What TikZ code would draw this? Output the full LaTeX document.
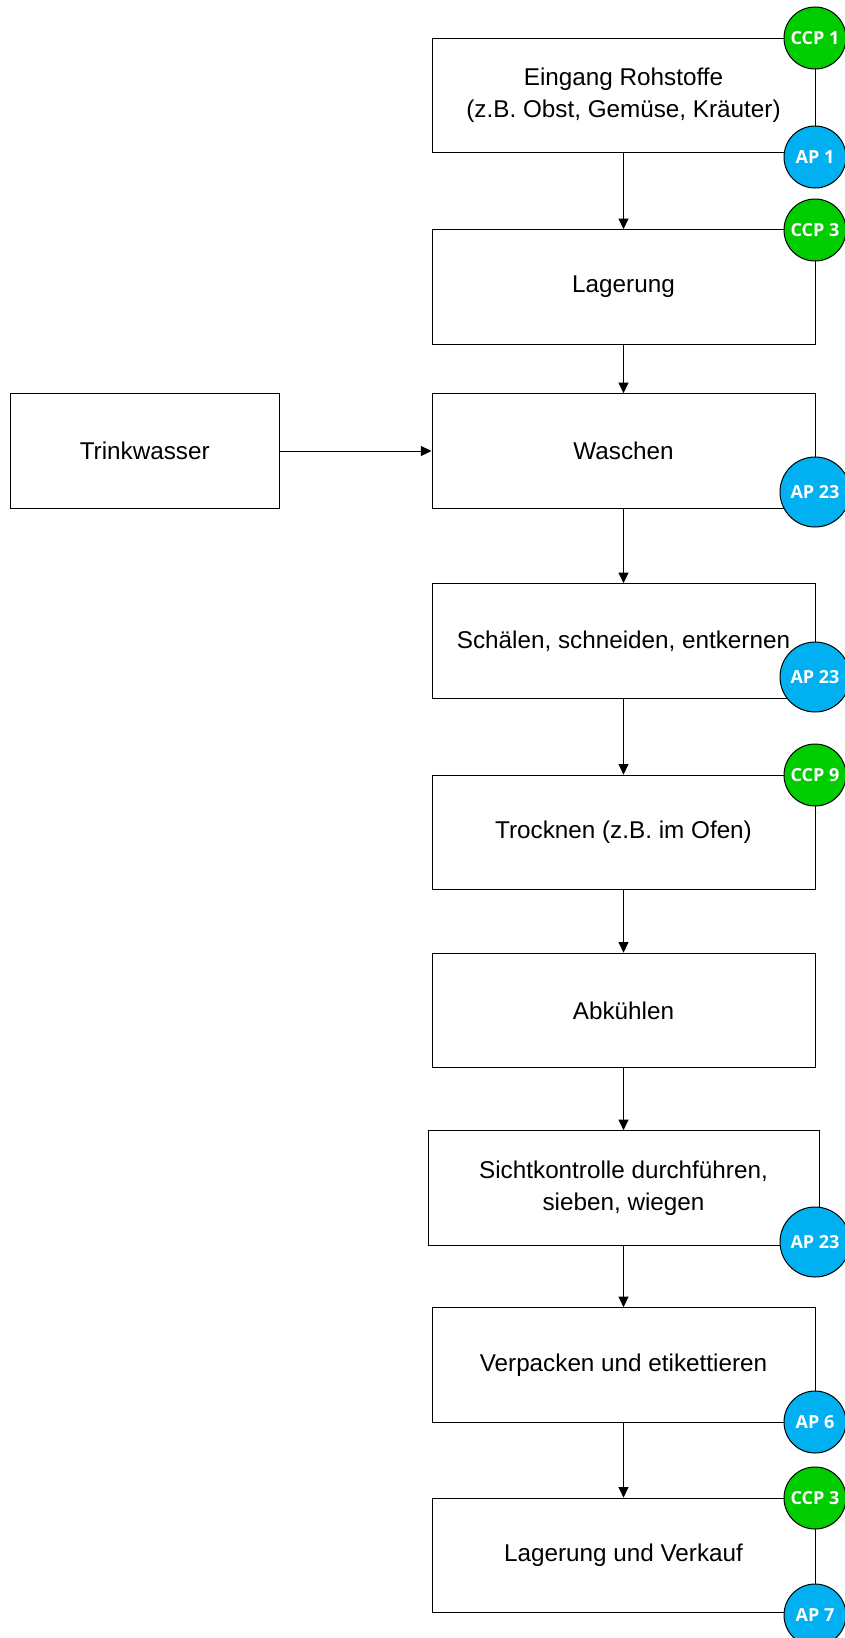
\documentclass[tikz,border=0pt]{standalone}
\usepackage{fontspec}
\setmainfont{Liberation Sans}
\newfontfamily\badgefont{Open Sans}
\usetikzlibrary{arrows.meta}
\definecolor{ccpgreen}{RGB}{0,204,0}
\definecolor{apblue}{RGB}{0,176,240}
\tikzset{
  stepbox/.style={draw=black, line width=0.75pt, fill=white, minimum width=287.25pt,
    minimum height=86pt, align=center, inner sep=0pt,
    font=\fontsize{18.2pt}{24pt}\selectfont},
  flow/.style={draw=black, line width=0.75pt, -{Triangle[length=8pt,width=7.5pt]}},
  badge/.style={circle, draw=black, line width=0.75pt, inner sep=0pt, text=white,
    font=\badgefont\bfseries\fontsize{13.5pt}{15pt}\selectfont, minimum size=46.5pt},
  ccp/.style={badge, fill=ccpgreen},
  ap/.style={badge, fill=apblue},
  apwide/.style={ap, minimum size=52.5pt}
}
\begin{document}
\begin{tikzpicture}[x=0.75pt,y=-0.75pt]
\useasboundingbox (0,0) rectangle (845,1638);

% process steps
\node[stepbox] (eingang) at (623.5,95.5) {Eingang Rohstoffe\\(z.B. Obst, Gemüse, Kräuter)};
\node[stepbox] (lager) at (623.5,287) {Lagerung};
\node[stepbox] (waschen) at (623.5,451) {Waschen};
\node[stepbox, minimum width=201.4pt] (wasser) at (144.75,451) {Trinkwasser};
\node[stepbox] (schaelen) at (623.5,641) {Schälen, schneiden, entkernen};
\node[stepbox] (trocknen) at (623.5,832.5) {Trocknen (z.B. im Ofen)};
\node[stepbox] (abkuehlen) at (623.5,1010.5) {Abkühlen};
\node[stepbox, minimum width=293.25pt] (sicht) at (623.5,1188) {Sichtkontrolle durchführen,\\sieben, wiegen};
\node[stepbox] (verpacken) at (623.5,1365) {Verpacken und etikettieren};
\node[stepbox] (verkauf) at (623.5,1555.5) {Lagerung und Verkauf};

% flow
\draw[flow] (eingang) -- (lager);
\draw[flow] (lager) -- (waschen);
\draw[flow] (wasser) -- (waschen);
\draw[flow] (waschen) -- (schaelen);
\draw[flow] (schaelen) -- (trocknen);
\draw[flow] (trocknen) -- (abkuehlen);
\draw[flow] (abkuehlen) -- (sicht);
\draw[flow] (sicht) -- (verpacken);
\draw[flow] (verpacken) -- (verkauf);

% control points
\node[ccp] (c1) at (815,38) {CCP 1};
\node[ap] (a1) at (815,157) {AP 1};
\node[ccp] (c3a) at (815,230) {CCP 3};
\node[apwide] (a23a) at (815,492) {AP 23};
\node[apwide] (a23b) at (815,677) {AP 23};
\node[ccp] (c9) at (815,775) {CCP 9};
\node[apwide] (a23c) at (815,1242) {AP 23};
\node[ap] (a6) at (815,1422) {AP 6};
\node[ccp] (c3b) at (815,1498) {CCP 3};
\node[ap] (a7) at (815,1615) {AP 7};
\end{tikzpicture}
\end{document}
